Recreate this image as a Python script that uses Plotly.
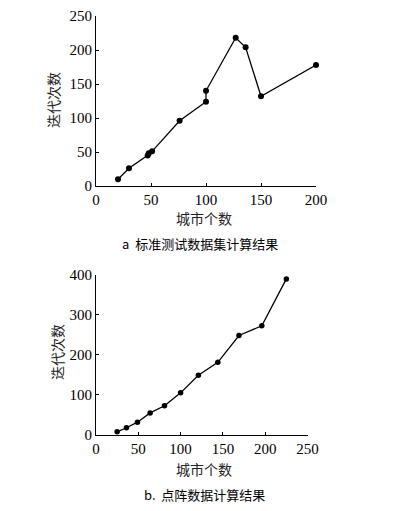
import plotly.graph_objects as go

# Chart a: standard benchmark datasets
a_cities = [20, 30, 47, 48, 51, 76, 100, 100, 127, 136, 150, 200]
a_iters = [10, 26, 45, 48, 51, 96, 124, 140, 218, 204, 132, 178]

# Chart b: lattice datasets
b_cities = [25, 36, 49, 64, 81, 100, 121, 144, 169, 196, 225]
b_iters = [8, 18, 32, 55, 73, 105, 149, 181, 248, 272, 389]

a_xticks = [0, 50, 100, 150, 200]
a_yticks = [0, 50, 100, 150, 200, 250]
b_xticks = [0, 50, 100, 150, 200, 250]
b_yticks = [0, 100, 200, 300, 400]

xlabel = "城市个数"
ylabel = "迭代次数"
cap_a = "a  标准测试数据集计算结果"
cap_b = "b.  点阵数据计算结果"

# page body has an 8px margin at top-left; size the figure to reach the window edges
OFF = 8
W, H = 395 - OFF, 511 - OFF
serif = "Liberation Serif"
cjk = "Noto Sans CJK SC"

def px(x):
    return (x - OFF) / W

def py(y):
    return 1 - (y - OFF) / H

fig = go.Figure()
fig.add_trace(go.Scatter(x=a_cities, y=a_iters, mode="lines+markers",
                         line=dict(color="black", width=1.3),
                         marker=dict(color="black", size=6),
                         xaxis="x", yaxis="y", showlegend=False, cliponaxis=False))
fig.add_trace(go.Scatter(x=b_cities, y=b_iters, mode="lines+markers",
                         line=dict(color="black", width=1.3),
                         marker=dict(color="black", size=5.5),
                         xaxis="x2", yaxis="y2", showlegend=False, cliponaxis=False))

def ax(domain, rng, ticks, anchor):
    return dict(domain=domain, range=rng, tickvals=ticks, ticktext=[str(t) for t in ticks],
                showline=True, linecolor="black", linewidth=1.2, ticks="inside",
                ticklen=3, tickcolor="black", showgrid=False, zeroline=False,
                tickfont=dict(family=serif, size=15, color="black"), anchor=anchor,
                fixedrange=True, automargin=False)

fig.update_layout(
    template="none",
    width=W, height=H,
    margin=dict(l=0, r=0, t=0, b=0),
    paper_bgcolor="white", plot_bgcolor="white",
    xaxis=ax([px(96), px(316)], [0, 200], a_xticks, "y"),
    yaxis=ax([py(186), py(16)], [0, 250], a_yticks, "x"),
    xaxis2=ax([px(96), px(307.5)], [0, 250], b_xticks, "y2"),
    yaxis2=ax([py(435), py(274.5)], [0, 400], b_yticks, "x2"),
)

def ann(text, x, y, size, angle=0, family=cjk, color="#222"):
    fig.add_annotation(text=text, x=px(x), y=py(y), xref="paper", yref="paper",
                       showarrow=False, textangle=angle, xanchor="center", yanchor="middle",
                       font=dict(family=family, size=size, color=color))

ann(xlabel, 204, 218, 14)
ann(ylabel, 53, 100, 14, angle=-90)
ann(cap_a, 200, 243, 13, color="black")
ann(xlabel, 204, 469, 14)
ann(ylabel, 57, 352, 14, angle=-90)
ann(cap_b, 204, 494, 13, color="black")

fig.write_html("out.html")
